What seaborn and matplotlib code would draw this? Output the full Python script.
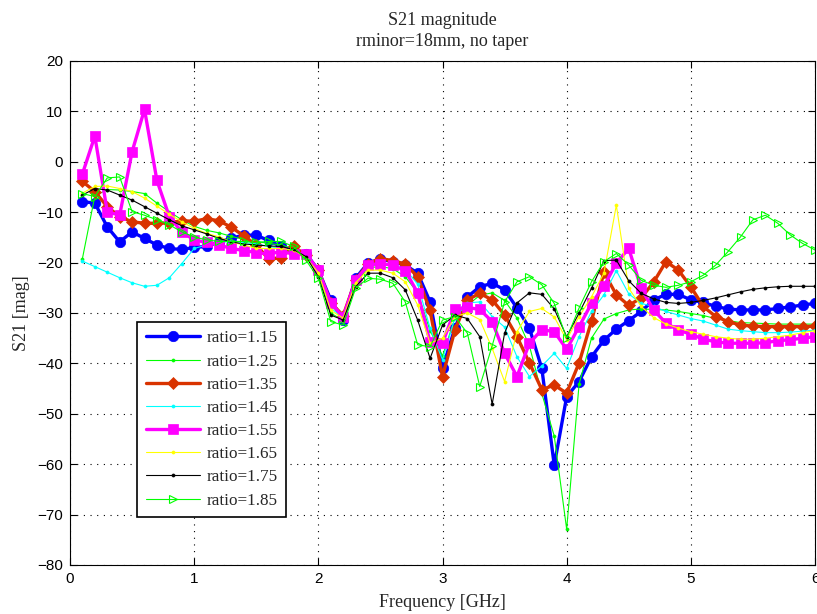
import numpy as np
import pandas as pd
import matplotlib
matplotlib.use("Agg")
import matplotlib.pyplot as plt
import seaborn as sns

freq = [round(0.1 * i, 1) for i in range(1, 61)]

s115 = [-7.9, -8.2, -12.9, -15.9, -13.9, -15.2, -16.5, -17.2, -17.4, -17.0,
        -16.8, -15.9, -15.2, -14.5, -14.6, -15.6, -16.8, -17.8, -18.2, -21.5,
        -27.4, -31.4, -23.1, -20.1, -19.3, -19.8, -20.5, -22.1, -27.8, -41.0,
        -33.0, -26.8, -24.8, -24.1, -25.4, -29.0, -33.0, -41.0, -60.2, -46.6,
        -43.6, -38.7, -35.4, -33.2, -31.5, -29.7, -27.4, -26.3, -26.3, -27.4,
        -27.9, -28.7, -29.2, -29.4, -29.4, -29.4, -29.1, -28.8, -28.4, -28.1]
s125 = [-19.2, -6.8, -5.5, -5.6, -5.9, -6.3, -8.2, -9.9, -11.5, -12.8,
        -13.6, -14.1, -14.8, -15.4, -15.8, -16.2, -16.5, -17.2, -19.0, -22.0,
        -30.0, -31.5, -24.0, -21.0, -20.8, -21.2, -22.8, -26.0, -33.5, -38.5,
        -31.0, -28.5, -26.5, -26.0, -27.5, -31.0, -36.5, -46.0, -54.4, -72.9,
        -44.1, -35.0, -31.2, -30.1, -29.4, -29.2, -29.3, -29.4, -29.7, -30.1,
        -30.5, -31.1, -31.5, -31.9, -32.0, -32.1, -32.2, -32.2, -32.2, -32.2]
s135 = [-3.9, -5.9, -8.9, -10.9, -11.9, -12.2, -12.2, -12.1, -11.7, -11.8,
        -11.3, -11.7, -13.0, -14.7, -16.5, -19.3, -19.0, -16.8, -18.5, -21.5,
        -28.0, -30.5, -23.5, -20.2, -19.2, -19.6, -20.3, -22.8, -29.5, -42.6,
        -33.4, -27.4, -26.1, -27.4, -30.4, -34.7, -39.9, -45.2, -44.3, -45.9,
        -39.9, -31.6, -21.9, -26.4, -28.5, -27.0, -23.9, -19.8, -21.5, -24.8,
        -28.7, -30.7, -31.7, -32.4, -32.6, -32.7, -32.7, -32.7, -32.7, -32.6]
s145 = [-19.7, -20.8, -21.9, -23.0, -24.0, -24.7, -24.5, -23.0, -20.2, -17.2,
        -16.5, -16.0, -15.8, -16.0, -16.3, -16.8, -17.2, -17.6, -18.6, -21.8,
        -29.0, -31.0, -23.5, -20.6, -20.0, -20.4, -21.3, -24.3, -33.0, -39.3,
        -31.0, -28.0, -27.8, -30.7, -32.8, -38.7, -42.6, -40.5, -38.0, -41.0,
        -34.7, -29.7, -26.4, -21.6, -26.2, -28.1, -28.7, -29.7, -30.4, -31.1,
        -31.6, -32.4, -33.2, -33.5, -33.7, -33.9, -33.9, -33.8, -33.6, -33.4]
s155 = [-2.4, 5.1, -9.9, -10.6, 2.0, 10.4, -3.7, -10.9, -13.9, -15.5,
        -16.0, -16.5, -17.2, -17.6, -18.0, -18.3, -17.8, -18.3, -18.3, -21.5,
        -28.0, -30.8, -23.5, -20.5, -20.2, -20.5, -21.6, -26.0, -35.8, -36.0,
        -29.3, -28.9, -29.3, -31.7, -38.0, -42.6, -36.0, -33.3, -33.7, -37.2,
        -32.7, -28.1, -24.7, -20.1, -17.2, -25.1, -29.4, -32.0, -33.4, -34.2,
        -35.2, -35.7, -36.0, -36.0, -36.0, -35.9, -35.5, -35.3, -35.0, -34.7]
s165 = [-6.2, -4.9, -4.8, -5.3, -5.9, -7.2, -8.8, -10.4, -11.9, -13.2,
        -14.2, -14.9, -15.9, -16.5, -17.2, -17.2, -17.2, -17.5, -19.0, -22.0,
        -29.5, -31.0, -24.0, -21.5, -21.5, -22.1, -23.8, -28.4, -36.0, -35.0,
        -30.7, -30.0, -31.3, -37.0, -43.6, -33.7, -29.7, -29.1, -30.8, -35.3,
        -30.7, -26.8, -22.1, -8.6, -25.1, -28.7, -30.9, -32.2, -33.0, -33.7,
        -34.2, -34.7, -35.0, -35.2, -35.2, -35.0, -34.7, -34.4, -33.9, -33.5]
s175 = [-6.6, -5.3, -5.6, -6.6, -7.6, -8.9, -10.2, -11.5, -12.7, -13.5,
        -14.3, -15.2, -15.9, -16.3, -16.5, -16.7, -16.8, -17.4, -18.8, -22.8,
        -30.4, -31.4, -24.8, -22.1, -22.1, -23.0, -25.4, -31.4, -39.0, -32.4,
        -30.4, -31.1, -34.7, -48.1, -34.0, -28.0, -26.0, -26.3, -29.2, -34.7,
        -30.0, -25.1, -19.6, -19.5, -23.6, -26.1, -27.2, -27.9, -28.1, -27.9,
        -27.5, -27.0, -26.4, -25.8, -25.3, -25.0, -24.8, -24.7, -24.7, -24.7]
s185 = [-6.3, -6.9, -3.2, -3.0, -9.9, -10.6, -11.5, -12.5, -13.9, -14.9,
        -15.5, -15.8, -15.8, -15.8, -16.0, -15.8, -15.8, -16.8, -19.5, -23.1,
        -31.7, -32.4, -25.1, -23.1, -23.3, -24.1, -27.8, -36.3, -36.7, -31.4,
        -30.7, -34.0, -44.6, -36.5, -27.8, -23.8, -22.8, -24.4, -28.1, -35.0,
        -29.0, -23.8, -19.8, -18.2, -20.5, -23.5, -24.5, -24.9, -24.5, -23.8,
        -22.5, -20.5, -17.8, -14.9, -11.5, -10.6, -12.2, -14.5, -16.2, -17.5]

labels = ["ratio=1.15", "ratio=1.25", "ratio=1.35", "ratio=1.45",
          "ratio=1.55", "ratio=1.65", "ratio=1.75", "ratio=1.85"]
series = [s115, s125, s135, s145, s155, s165, s175, s185]

x_ticks = [0, 1, 2, 3, 4, 5, 6]
y_ticks = [-80, -70, -60, -50, -40, -30, -20, -10, 0, 10, 20]

styles = [
    dict(color="#0000ff", lw=2.4, marker="o", ms=7.5, mfc="#0000ff", mec="#0000ff"),
    dict(color="#00ff00", lw=0.8, marker="o", ms=2.2, mfc="#00ff00", mec="#00ff00"),
    dict(color="#d93300", lw=2.4, marker="D", ms=6.5, mfc="#d93300", mec="#d93300"),
    dict(color="#00ffff", lw=0.8, marker="o", ms=2.2, mfc="#00ffff", mec="#00ffff"),
    dict(color="#ff00ff", lw=2.4, marker="s", ms=6.5, mfc="#ff00ff", mec="#ff00ff"),
    dict(color="#ffff00", lw=0.8, marker="o", ms=2.2, mfc="#ffff00", mec="#ffff00"),
    dict(color="#000000", lw=0.8, marker="o", ms=2.2, mfc="#000000", mec="#000000"),
    dict(color="#00ff00", lw=0.8, marker=">", ms=6.0, mfc="none", mec="#00ff00", mew=0.8),
]

sns.set_style("white")
plt.rcParams["font.family"] = ["Liberation Serif", "DejaVu Serif"]

fig = plt.figure(figsize=(8.17, 6.14), dpi=100)
ax = fig.add_axes([70 / 817, 1 - 565 / 614, 745 / 817, 504 / 614])

for vals, lab, st in zip(series, labels, styles):
    df = pd.DataFrame({"f": freq, "v": vals})
    sns.lineplot(data=df, x="f", y="v", ax=ax, label=lab, errorbar=None,
                 color=st["color"], linewidth=st["lw"], marker=st["marker"],
                 markersize=st["ms"], markerfacecolor=st["mfc"],
                 markeredgecolor=st["mec"], markeredgewidth=st.get("mew", 0.5))

ax.set_xlim(0, 6)
ax.set_ylim(-80, 20)
ax.set_xticks(x_ticks)
ax.set_yticks(y_ticks)
ax.set_xticklabels([str(t) for t in x_ticks], family="Liberation Sans", fontsize=11)
ax.set_yticklabels([str(t).replace("-", "\u2212") for t in y_ticks],
                   family="Liberation Sans", fontsize=11)
ax.tick_params(direction="in", length=5, width=0.8, top=True, right=True,
               bottom=True, left=True, colors="black", pad=5)
ax.grid(True, color="black", linestyle=(0, (1, 5)), linewidth=0.8)
for sp in ax.spines.values():
    sp.set_color("black")
    sp.set_linewidth(0.8)

ax.set_xlabel("Frequency [GHz]", fontsize=13, labelpad=6)
ax.set_ylabel("S21 [mag]", fontsize=13, labelpad=5)
ax.set_title("S21 magnitude\nrminor=18mm, no taper", fontsize=13, linespacing=1.3, pad=11)

leg = ax.legend(loc="lower left", bbox_to_anchor=(0.09, 0.095), fontsize=12.3,
                handlelength=3.2, labelspacing=0.42, borderpad=0.5,
                handletextpad=0.35, fancybox=False, framealpha=1,
                edgecolor="black", borderaxespad=0)
leg.get_frame().set_linewidth(1.2)

fig.savefig("out.png", dpi=100)
